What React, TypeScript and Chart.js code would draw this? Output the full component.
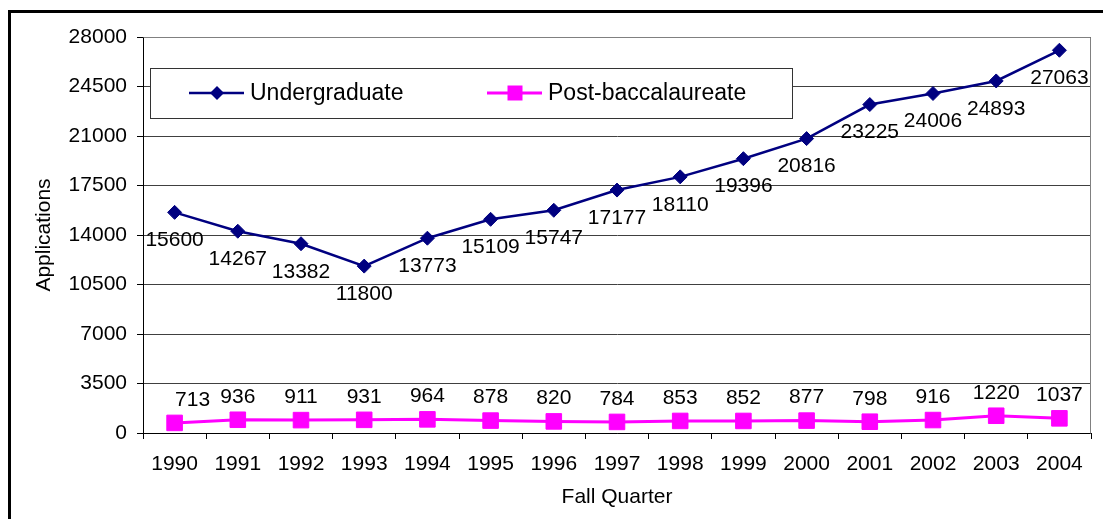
import React, { useEffect, useRef } from "react";
import { Chart, registerables } from "chart.js";

Chart.register(...registerables);

const years = ["1990", "1991", "1992", "1993", "1994", "1995", "1996", "1997", "1998", "1999", "2000", "2001", "2002", "2003", "2004"];
const undergraduate = [15600, 14267, 13382, 11800, 13773, 15109, 15747, 17177, 18110, 19396, 20816, 23225, 24006, 24893, 27063];
const postBacc = [713, 936, 911, 931, 964, 878, 820, 784, 853, 852, 877, 798, 916, 1220, 1037];
const seriesNames = ["Undergraduate", "Post-baccalaureate"];
const yTicks = [0, 3500, 7000, 10500, 14000, 17500, 21000, 24500, 28000];

const FONT = "'Liberation Sans', Arial, Helvetica, sans-serif";
const NAVY = "#000080";
const MAGENTA = "#FF00FF";
const FS = 21;

const valueLabels = {
  id: "valueLabels",
  afterDatasetsDraw(chart: any) {
    const ctx = chart.ctx;
    ctx.save();
    ctx.font = `${FS}px ${FONT}`;
    ctx.fillStyle = "#000";
    ctx.textAlign = "center";
    ctx.textBaseline = "middle";
    chart.data.datasets.forEach((ds: any, di: number) => {
      const meta = chart.getDatasetMeta(di);
      meta.data.forEach((pt: any, i: number) => {
        const v = ds.data[i];
        let dx = 0;
        let dy = di === 0 ? 28 : -23;
        if (di === 1 && i === 0) dx = 18;
        ctx.fillText(String(v), pt.x + dx, pt.y + dy);
      });
    });
    ctx.restore();
  },
};

const framePlugin = {
  id: "framePlugin",
  afterDraw(chart: any) {
    const ctx = chart.ctx;
    const a = chart.chartArea;
    ctx.save();
    ctx.strokeStyle = "#808080";
    ctx.lineWidth = 1;
    ctx.beginPath();
    ctx.moveTo(Math.round(a.left) + 0.5, Math.round(a.top) + 0.5);
    ctx.lineTo(Math.round(a.right) - 0.5, Math.round(a.top) + 0.5);
    ctx.lineTo(Math.round(a.right) - 0.5, Math.round(a.bottom) + 0.5);
    ctx.stroke();

    const bx = 150.5, by = 68.5, bw = 642, bh = 50;
    ctx.fillStyle = "#fff";
    ctx.fillRect(bx, by, bw, bh);
    ctx.strokeStyle = "#333";
    ctx.strokeRect(bx, by, bw, bh);
    const cy = 93;
    const items = [
      { x0: 189, x1: 244, mx: 217, tx: 250, color: NAVY, style: "diamond", width: 2.5 },
      { x0: 487, x1: 542, mx: 515, tx: 548, color: MAGENTA, style: "square", width: 3 },
    ];
    items.forEach((it, k) => {
      ctx.strokeStyle = it.color;
      ctx.lineWidth = it.width;
      ctx.beginPath();
      ctx.moveTo(it.x0, cy);
      ctx.lineTo(it.x1, cy);
      ctx.stroke();
      ctx.fillStyle = it.color;
      ctx.beginPath();
      if (it.style === "diamond") {
        const r = 7;
        ctx.moveTo(it.mx, cy - r);
        ctx.lineTo(it.mx + r, cy);
        ctx.lineTo(it.mx, cy + r);
        ctx.lineTo(it.mx - r, cy);
        ctx.closePath();
      } else {
        ctx.rect(it.mx - 7.5, cy - 7.5, 15, 15);
      }
      ctx.fill();
      ctx.fillStyle = "#000";
      ctx.font = `23px ${FONT}`;
      ctx.textAlign = "left";
      ctx.textBaseline = "middle";
      ctx.fillText(chart.data.datasets[k].label, it.tx, cy + 1);
    });
    ctx.restore();
  },
};

export default function App() {
  const ref = useRef<HTMLCanvasElement | null>(null);

  useEffect(() => {
    if (!ref.current) return;
    const chart = new Chart(ref.current, {
      type: "line",
      data: {
        labels: years,
        datasets: [
          {
            label: seriesNames[0],
            data: undergraduate,
            borderColor: NAVY,
            backgroundColor: NAVY,
            borderWidth: 2.5,
            pointStyle: "rectRot",
            pointRadius: 7,
            pointBorderWidth: 1,
            pointBackgroundColor: NAVY,
            pointBorderColor: NAVY,
            tension: 0,
          },
          {
            label: seriesNames[1],
            data: postBacc,
            borderColor: MAGENTA,
            backgroundColor: MAGENTA,
            borderWidth: 3,
            pointStyle: "rect",
            pointRadius: 11,
            pointBorderWidth: 1,
            pointBackgroundColor: MAGENTA,
            pointBorderColor: MAGENTA,
            tension: 0,
          },
        ],
      },
      options: {
        animation: false,
        responsive: false,
        devicePixelRatio: 1,
        layout: { padding: { top: 37, right: 3, left: 0, bottom: 0 } },
        plugins: {
          legend: { display: false },
          tooltip: { enabled: false },
        },
        scales: {
          x: {
            offset: true,
            grid: {
              display: true,
              offset: true,
              drawOnChartArea: false,
              drawTicks: true,
              tickLength: 6,
              color: "#000",
              tickColor: "#000",
            },
            border: { display: true, color: "#000", width: 1 },
            ticks: {
              color: "#000",
              font: { family: FONT, size: FS },
              padding: 13,
              maxRotation: 0,
              autoSkip: false,
            },
            title: {
              display: true,
              text: "Fall Quarter",
              color: "#000",
              font: { family: FONT, size: FS },
              padding: { top: 0, bottom: 9 },
            },
            afterFit(scale: any) {
              scale.height = 86;
            },
          },
          y: {
            min: 0,
            max: 28000,
            afterBuildTicks(scale: any) {
              scale.ticks = yTicks.map((v) => ({ value: v }));
            },
            grid: {
              color: "#404040",
              tickColor: "#000",
              drawTicks: true,
              tickLength: 6,
            },
            border: { display: true, color: "#000", width: 1 },
            ticks: {
              color: "#000",
              font: { family: FONT, size: FS },
              padding: 10,
              callback: (v: any) => String(v),
            },
            title: {
              display: true,
              text: "Applications",
              color: "#000",
              font: { family: FONT, size: FS },
              padding: { top: 32, bottom: 0 },
            },
            afterFit(scale: any) {
              scale.width = 143;
            },
          },
        },
      },
      plugins: [valueLabels, framePlugin],
    } as any);
    return () => chart.destroy();
  }, []);

  return (
    <div style={{ position: "fixed", left: 0, top: 0, width: 1103, height: 519, overflow: "hidden", background: "#fff" }}>
      <canvas ref={ref} width={1103} height={519} style={{ position: "absolute", left: 0, top: 0, width: 1103, height: 519 }} />
      <div
        style={{
          position: "absolute",
          left: 8,
          top: 10,
          width: 1300,
          height: 700,
          border: "3px solid #000",
          pointerEvents: "none",
        }}
      />
    </div>
  );
}
